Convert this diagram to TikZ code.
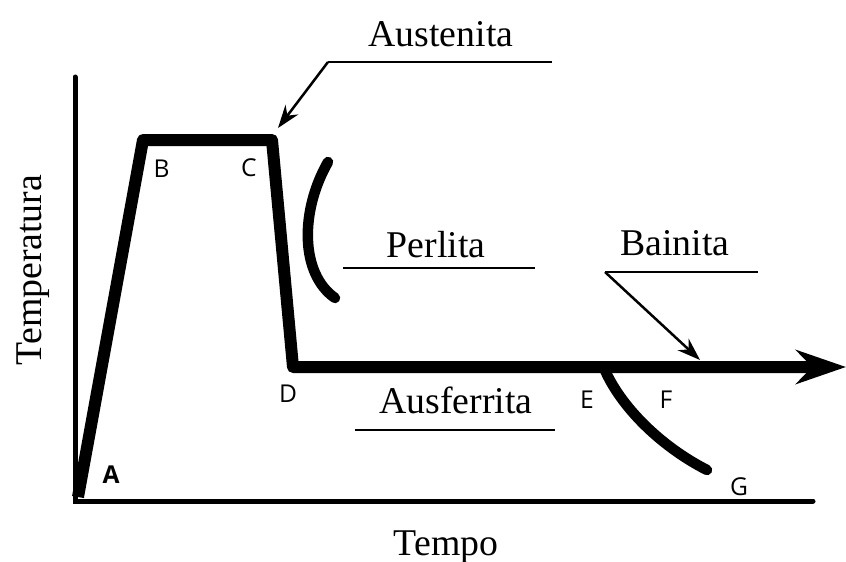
\documentclass[tikz,border=0pt]{standalone}
\usepackage{fontspec}
\setmainfont{Liberation Serif}
\newfontfamily\letterfont{Open Sans}
\usetikzlibrary{arrows.meta}
\definecolor{ink}{HTML}{000000}

\begin{document}
\begin{tikzpicture}[
    color=ink,
    axisline/.style={line width=0.10cm, line cap=round},
    trace/.style={line width=0.24cm, line join=round},
    tcurve/.style={line width=0.21cm, line cap=round},
    leader/.style={line width=0.05cm},
    pointer/.style={line width=0.05cm, -{Stealth[length=4.6mm,width=3.2mm]}},
    phase/.style={font=\fontsize{21.5}{24}\selectfont, text=ink, anchor=base},
    ptlab/.style={font=\letterfont\fontsize{14}{16}\selectfont, text=ink}]
  % fixed canvas, same proportions as the original
  \path[use as bounding box] (0,0) rectangle (16.92,11.22);

  % ================= axes =================
  \coordinate (top) at (1.50,9.68);
  \coordinate (origin) at (1.50,1.20);
  \coordinate (right) at (16.26,1.20);
  \draw[axisline] (top) -- (origin) -- (right);
  \node[phase, rotate=90] (temp) at (0.82,5.82) {Temperatura};
  \node[phase] (tempo) at (8.92,0.12) {Tempo};

  % ================= heat treatment cycle =================
  \coordinate (A) at (1.56,1.28);
  \coordinate (B) at (2.86,8.42);
  \coordinate (C) at (5.44,8.42);
  \coordinate (D) at (5.86,3.88);
  \coordinate (end) at (16.92,3.88);
  \draw[trace, -{Stealth[length=10mm,width=6.8mm]}] (A) -- (B) -- (C) -- (D) -- (end);

  % transformation curves
  \coordinate (p1) at (6.56,7.98);
  \coordinate (p2) at (6.70,5.26);
  \draw[tcurve] (p1) .. controls (6.00,7.00) and (6.00,5.75) .. (p2);
  \coordinate (E) at (12.08,3.86);
  \coordinate (G) at (14.14,1.82);
  \draw[tcurve] (E) .. controls (12.40,3.10) and (13.20,2.30) .. (G);

  % point letters
  \node[ptlab, font=\letterfont\bfseries\fontsize{14}{16}\selectfont] (labA) at (2.22,1.72) {A};
  \node[ptlab] (labB) at (3.23,7.85) {B};
  \node[ptlab] (labC) at (4.98,7.86) {C};
  \node[ptlab] (labD) at (5.76,3.34) {D};
  \node[ptlab] (labE) at (11.74,3.22) {E};
  \node[ptlab] (labF) at (13.32,3.22) {F};
  \node[ptlab] (labG) at (14.78,1.48) {G};

  % ================= phase names =================
  \node[phase] (aus) at (8.82,10.28) {Austenita};
  \coordinate (ausL) at (6.56,9.98);
  \coordinate (ausR) at (11.04,9.98);
  \coordinate (ausT) at (5.56,8.66);
  \draw[leader] (ausR) -- (ausL);
  \draw[pointer] (ausL) -- (ausT);

  \node[phase] (perl) at (8.72,6.08) {Perlita};
  \coordinate (perlL) at (6.86,5.86);
  \coordinate (perlR) at (10.70,5.86);
  \draw[leader] (perlL) -- (perlR);

  \node[phase] (bain) at (13.50,6.12) {Bainita};
  \coordinate (bainL) at (12.10,5.78);
  \coordinate (bainR) at (15.16,5.78);
  \coordinate (bainT) at (14.00,4.02);
  \draw[leader] (bainR) -- (bainL);
  \draw[pointer] (bainL) -- (bainT);

  \node[phase] (ausf) at (9.12,2.96) {Ausferrita};
  \coordinate (ausfL) at (7.10,2.62);
  \coordinate (ausfR) at (11.10,2.62);
  \draw[leader] (ausfL) -- (ausfR);
\end{tikzpicture}
\end{document}
